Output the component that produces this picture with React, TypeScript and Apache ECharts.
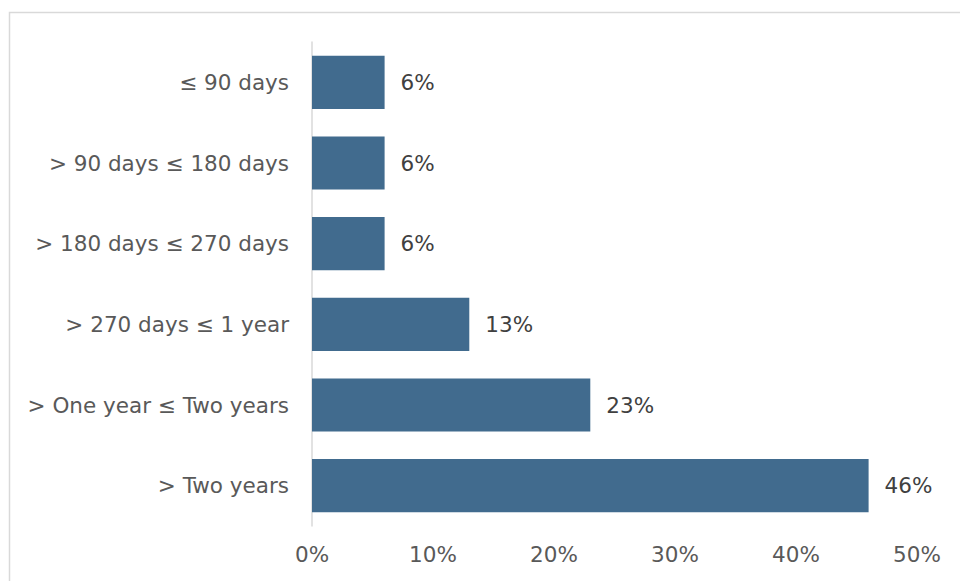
import React, { useEffect, useRef } from "react";
import * as echarts from "echarts";

const categories = [
  "≤ 90 days",
  "> 90 days ≤ 180 days",
  "> 180 days ≤ 270 days",
  "> 270 days ≤ 1 year",
  "> One year ≤ Two years",
  "> Two years",
];
const values = [6, 6, 6, 13, 23, 46];
const xTicks = [0, 10, 20, 30, 40, 50];

const FONT = "DejaVu Sans";
const TEXT = "#595959";

export default function App() {
  const ref = useRef<HTMLDivElement>(null);
  useEffect(() => {
    if (!ref.current) return;
    const chart = echarts.init(ref.current, undefined, { renderer: "svg" });
    chart.setOption({
      animation: false,
      backgroundColor: "#ffffff",
      graphic: [
        {
          type: "rect",
          shape: { x: 9.5, y: 12.5, width: 1000, height: 1000 },
          style: { fill: "none", stroke: "#d9d9d9", lineWidth: 1.5 },
          silent: true,
        },
      ],
      grid: { left: 312, right: 43, top: 42, bottom: 55, containLabel: false },
      xAxis: {
        type: "value",
        min: xTicks[0],
        max: xTicks[xTicks.length - 1],
        interval: 10,
        axisLine: { show: false },
        axisTick: { show: false },
        splitLine: { show: false },
        axisLabel: {
          formatter: (v: number) => `${v}%`,
          color: TEXT,
          fontFamily: FONT,
          fontSize: 21.5,
          margin: 17,
        },
      },
      yAxis: {
        type: "category",
        data: categories,
        inverse: true,
        axisLine: { show: true, lineStyle: { color: "#d9d9d9", width: 1.5 } },
        axisTick: { show: false },
        axisLabel: {
          color: TEXT,
          fontFamily: FONT,
          fontSize: 21.5,
          margin: 23,
        },
      },
      series: [
        {
          type: "bar",
          data: values,
          barCategoryGap: "34%",
          itemStyle: { color: "#416b8e" },
          label: {
            show: true,
            position: "right",
            distance: 16,
            formatter: (p: any) => `${p.value}%`,
            color: "#404040",
            fontFamily: FONT,
            fontSize: 21.5,
          },
        },
      ],
    });
    return () => chart.dispose();
  }, []);
  return (
    <div
      ref={ref}
      style={{ position: "fixed", left: 0, top: 0, width: 960, height: 581 }}
    />
  );
}
